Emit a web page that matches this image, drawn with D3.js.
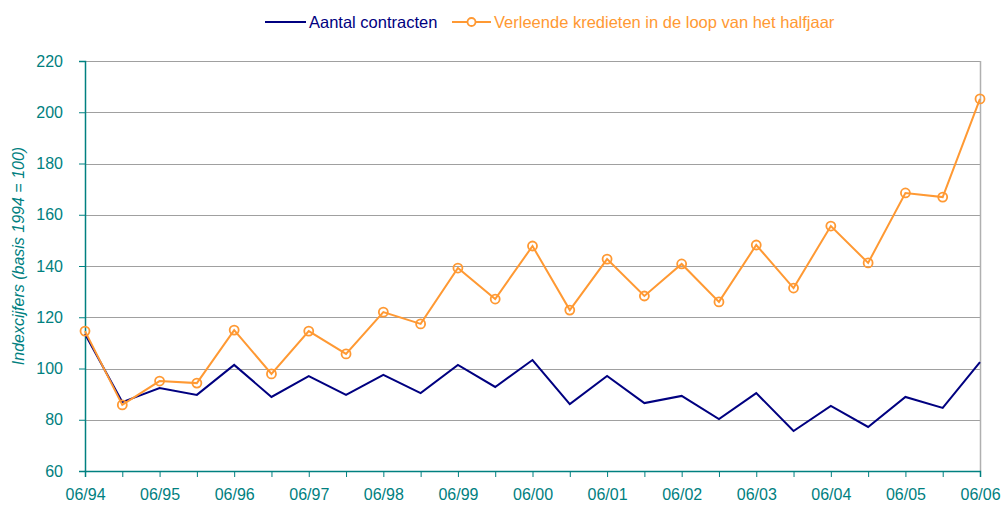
<!DOCTYPE html>
<html>
<head>
<meta charset="utf-8">
<script src="https://cdn.jsdelivr.net/npm/d3@7"></script>
<style>
  body { margin: 0; background: #fff; }
  svg { font-family: Arial, "Liberation Sans", sans-serif; }
</style>
</head>
<body>
<div id="chart"></div>
<script>
// half-yearly periods 06/94 .. 06/06
const periods = ["06/94","12/94","06/95","12/95","06/96","12/96","06/97","12/97","06/98","12/98",
    "06/99","12/99","06/00","12/00","06/01","12/01","06/02","12/02","06/03","12/03",
    "06/04","12/04","06/05","12/05","06/06"];

const contracten = [113.5, 86.9, 92.4, 89.7, 101.4, 88.9, 97.0, 89.7, 97.5, 90.4,
    101.4, 92.8, 103.3, 86.1, 97.1, 86.5, 89.3, 80.3, 90.4, 75.6,
    85.4, 77.2, 88.9, 84.6, 102.5];

const kredieten = [114.6, 85.8, 95.1, 94.3, 115.0, 97.9, 114.6, 105.7, 122.0, 117.4,
    139.2, 127.1, 147.8, 122.8, 142.7, 128.3, 140.8, 126.0, 148.2, 131.4,
    155.6, 141.2, 168.5, 166.9, 205.2];

const yTicks = [60, 80, 100, 120, 140, 160, 180, 200, 220];

const teal = "#008080";
const navy = "#000080";
const orange = "#ff9933";

const width = 1002, height = 505;
const margin = {top: 61, right: 22, bottom: 34, left: 85};
const w = width - margin.left - margin.right;
const h = height - margin.top - margin.bottom;

const svg = d3.select("#chart")
    .append("svg")
    .attr("width", width)
    .attr("height", height);

const g = svg.append("g")
    .attr("transform", `translate(${margin.left}, ${margin.top})`);

const x = d3.scalePoint()
    .domain(periods)
    .range([0, w]);

const y = d3.scaleLinear()
    .domain([60, 220])
    .range([h, 0]);

// gridlines
g.selectAll(".grid")
    .data(yTicks.filter(d => d > 60))
    .enter().append("line")
    .attr("x1", 0)
    .attr("x2", w)
    .attr("y1", d => Math.round(y(d)) + 0.5)
    .attr("y2", d => Math.round(y(d)) + 0.5)
    .style("stroke", "#a0a0a0")
    .style("stroke-width", 1);

// right border
g.append("line")
    .attr("x1", w + 0.5).attr("x2", w + 0.5)
    .attr("y1", 0).attr("y2", h)
    .style("stroke", "#b0b0b0")
    .style("stroke-width", 1.5);

// y axis
const yAxis = g.append("g")
    .call(d3.axisLeft(y).tickValues(yTicks).tickSize(6).tickPadding(16));
yAxis.select(".domain").style("stroke", teal).style("stroke-width", 1.5);
yAxis.selectAll(".tick line").style("stroke", teal);
yAxis.selectAll("text")
    .style("fill", teal)
    .style("font-size", "16px");

// x axis
const xAxis = g.append("g")
    .attr("transform", `translate(0, ${h})`)
    .call(d3.axisBottom(x)
        .tickSize(6)
        .tickPadding(12)
        .tickFormat((d, i) => i % 2 === 0 ? d : ""));
xAxis.select(".domain").style("stroke", teal).style("stroke-width", 1.5);
xAxis.selectAll(".tick line").style("stroke", teal);
xAxis.selectAll("text")
    .style("fill", teal)
    .style("font-size", "16px");

// y axis title
svg.append("text")
    .attr("transform", `translate(24, 256) rotate(-90)`)
    .attr("text-anchor", "middle")
    .style("font-style", "italic")
    .style("font-size", "16px")
    .style("fill", teal)
    .text("Indexcijfers (basis 1994 = 100)");

// lines
const lineContracten = d3.line()
    .x((d, i) => x(periods[i]))
    .y(d => y(d));

g.append("path")
    .datum(contracten)
    .attr("d", lineContracten)
    .style("fill", "none")
    .style("stroke", navy)
    .style("stroke-width", 2);

g.append("path")
    .datum(kredieten)
    .attr("d", lineContracten)
    .style("fill", "none")
    .style("stroke", orange)
    .style("stroke-width", 2);

g.selectAll(".dot")
    .data(kredieten)
    .enter().append("circle")
    .attr("class", "dot")
    .attr("cx", (d, i) => x(periods[i]))
    .attr("cy", d => y(d))
    .attr("r", 4.5)
    .style("fill", "none")
    .style("stroke", orange)
    .style("stroke-width", 1.8);

// legend
const legend = svg.append("g").attr("transform", "translate(0, 22)");

legend.append("line")
    .attr("x1", 265).attr("x2", 306)
    .attr("y1", 0).attr("y2", 0)
    .style("stroke", navy)
    .style("stroke-width", 2);
legend.append("text")
    .attr("x", 309).attr("y", 6)
    .style("font-size", "16.5px")
    .style("fill", navy)
    .text("Aantal contracten");

legend.append("line")
    .attr("x1", 452).attr("x2", 491)
    .attr("y1", 0).attr("y2", 0)
    .style("stroke", orange)
    .style("stroke-width", 2);
legend.append("circle")
    .attr("cx", 471.5).attr("cy", 0)
    .attr("r", 4)
    .style("fill", "#fff")
    .style("stroke", orange)
    .style("stroke-width", 1.8);
legend.append("text")
    .attr("x", 494).attr("y", 6)
    .style("font-size", "16.5px")
    .style("fill", orange)
    .text("Verleende kredieten in de loop van het halfjaar");
</script>
</body>
</html>
